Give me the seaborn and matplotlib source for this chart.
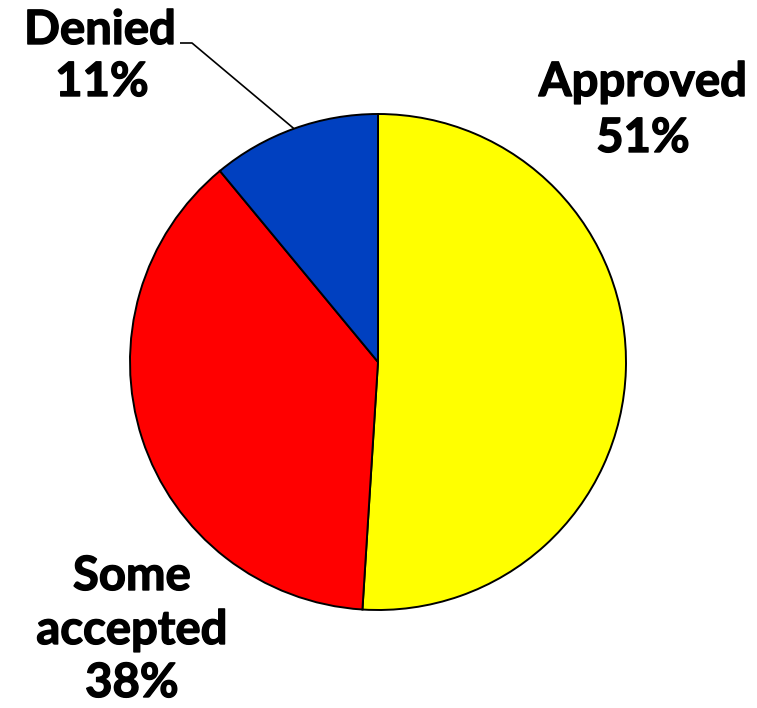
import numpy as np
import matplotlib
matplotlib.use("Agg")
import matplotlib.pyplot as plt
import matplotlib.patheffects as pe
import seaborn as sns

sns.set_theme(style="white")
plt.rcParams["font.family"] = ["Lato", "DejaVu Sans"]

labels = ["Approved", "Some\naccepted", "Denied"]
shares = [51, 38, 11]
colors = ["#FFFF00", "#FF0000", "#0040C0"]

W, H, DPI = 757, 708, 100
R_PX = 248.0
CX, CY = 378.0, 362.0


def px(x, y):
    """Convert pixel position (from top-left) to data coordinates."""
    return (x - CX) / R_PX, (CY - y) / R_PX


fig = plt.figure(figsize=(W / DPI, H / DPI), dpi=DPI)
ax = fig.add_axes([0, 0, 1, 1])
wedges, _ = ax.pie(
    shares,
    colors=colors,
    startangle=90,
    counterclock=False,
    radius=1.0,
    wedgeprops=dict(edgecolor="black", linewidth=1.4),
)
ax.set_xlim(-CX / R_PX, (W - CX) / R_PX)
ax.set_ylim(-(H - CY) / R_PX, CY / R_PX)
ax.set_aspect("equal")
ax.axis("off")

font = dict(fontsize=34, fontweight="bold", color="black", ha="center", va="center",
            path_effects=[pe.withStroke(linewidth=1.0, foreground="black")])

# Label positions (pixel layout)
label_pos = {
    "Approved": [(643, 82), (643, 138)],
    "Some\naccepted": [(132, 576), (132, 630), (132, 683)],
    "Denied": [(100, 30), (102, 82)],
}

for lab, share in zip(labels, shares):
    lines = lab.split("\n") + [f"{share}%"]
    for line, (x, y) in zip(lines, label_pos[lab]):
        ax.text(*px(x, y), line, **font)

# Leader line for the small slice
w = wedges[2]
mid = np.deg2rad((w.theta1 + w.theta2) / 2)
edge = (np.cos(mid), np.sin(mid))
elbow = px(192, 43)
end = px(180, 43)
ax.plot([edge[0], elbow[0], end[0]], [edge[1], elbow[1], end[1]],
        color="black", linewidth=1.2, solid_capstyle="butt")

fig.savefig("out.png", dpi=DPI, facecolor="white")
